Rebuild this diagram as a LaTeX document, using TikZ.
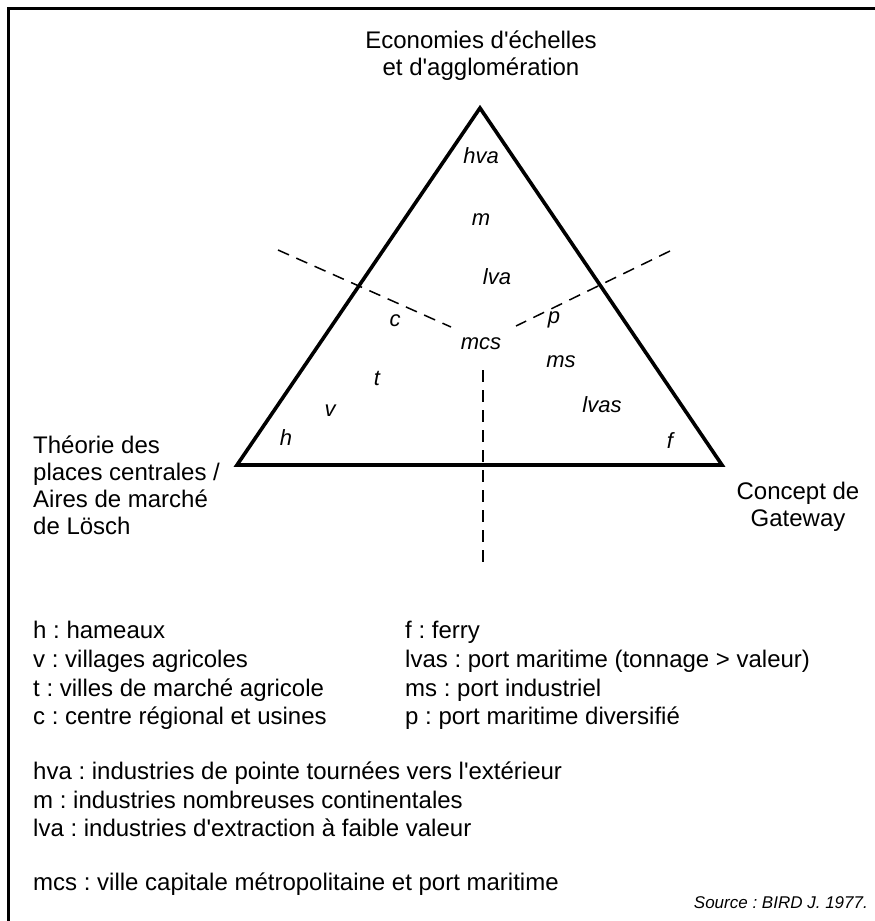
\documentclass[tikz,border=0pt]{standalone}
\usepackage{fontspec}
\setmainfont{Liberation Sans}
\frenchspacing
\newcommand{\apos}{\textquotesingle}
\begin{document}
\begin{tikzpicture}[x=1pt,y=-1pt,
  lbl/.style={font=\fontsize{24}{27}\selectfont, inner sep=0pt},
  leg/.style={font=\fontsize{24}{28}\selectfont, inner sep=0pt, anchor=west, text height=17pt, text depth=5pt},
  zone/.style={font=\fontsize{22}{26}\selectfont\itshape, inner sep=0pt},
  divider/.style={line width=1.5pt, dash pattern=on 12pt off 8pt},
  tri/.style={line width=3.6pt, line join=miter}]
\useasboundingbox (0,0) rectangle (875,921);
\fill[white] (0,0) rectangle (875,921);
% frame (top and left only)
\draw[line width=3pt] (8.5,921) -- (8.5,8.5) -- (875,8.5);
% triangle
\coordinate (A) at (480,108);
\coordinate (B) at (237,465);
\coordinate (C) at (722,465);
\draw[tri] (B) -- (A) -- (C) -- cycle;
% dividers
\coordinate (L1) at (278,250);
\coordinate (L2) at (451,327);
\coordinate (R1) at (670,251);
\coordinate (R2) at (516,326);
\coordinate (V1) at (483,370);
\coordinate (V2) at (483,562);
\draw[divider] (L1) -- (L2);
\draw[divider] (R1) -- (R2);
\draw[divider] (V1) -- (V2);
% corner labels
\node[lbl, align=center, anchor=north] (top) at (481,31) {Economies d\apos échelles\\et d\apos agglomération};
\node[lbl, align=left, anchor=north west] (left) at (33,436) {Théorie des\\places centrales /\\Aires de marché\\de Lösch};
\node[lbl, align=center, anchor=north] (right) at (798,482) {Concept de\\Gateway};
% zone labels
\node[zone] (hva) at (481,156) {hva};
\node[zone] (m) at (481,220) {m};
\node[zone] (lva) at (497,277) {lva};
\node[zone] (c) at (395,321) {c};
\node[zone] (p) at (554,320) {p};
\node[zone] (mcs) at (481,344) {mcs};
\node[zone] (ms) at (561,362) {ms};
\node[zone] (t) at (377,378) {t};
\node[zone] (v) at (330,411) {v};
\node[zone] (lvas) at (602,405) {lvas};
\node[zone] (h) at (286,438) {h};
\node[zone] (f) at (670,441) {f};
% legend
\node[leg] (lh) at (33,632) {h : hameaux};
\node[leg] (lv) at (33,661) {v : villages agricoles};
\node[leg] (lt) at (33,690) {t : villes de marché agricole};
\node[leg] (lc) at (33,718) {c : centre régional et usines};
\node[leg] (lf) at (405,632) {f : ferry};
\node[leg] (llvas) at (405,661) {lvas : port maritime (tonnage > valeur)};
\node[leg] (lms) at (405,690) {ms : port industriel};
\node[leg] (lp) at (405,718) {p : port maritime diversifié};
\node[leg] (lhva) at (33,773) {hva : industries de pointe tournées vers l\apos extérieur};
\node[leg] (lm) at (33,802) {m : industries nombreuses continentales};
\node[leg] (llva) at (33,830) {lva : industries d\apos extraction à faible valeur};
\node[leg] (lmcs) at (33,884) {mcs : ville capitale métropolitaine et port maritime};
\node[font=\fontsize{17}{20}\selectfont\itshape, inner sep=0pt, anchor=east] (src) at (868,903) {Source : BIRD J. 1977.};
\end{tikzpicture}
\end{document}
